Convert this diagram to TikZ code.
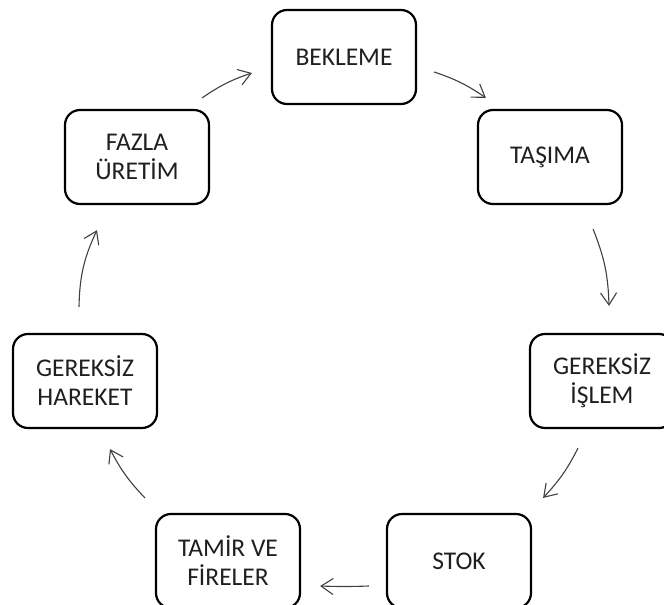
\documentclass[tikz,border=0pt]{standalone}
\usepackage{fontspec}
\setmainfont{Carlito}
\usetikzlibrary{arrows.meta,calc}
\begin{document}
\begin{tikzpicture}[x=1pt,y=-1pt,
  waste/.style={draw=black, line width=2.2pt, rounded corners=15pt,
    minimum width=144pt, minimum height=94pt, inner sep=0pt, align=center,
    font=\fontsize{25.5}{29}\selectfont, text=black!88},
  flow/.style={draw=black!75, line width=1.1pt,
    -{Straight Barb[length=12pt,width=16pt,line width=1.1pt]}}]
\useasboundingbox (0,0) rectangle (664,605);

% the seven wastes, arranged in a ring
\node[waste] (bek)  at (344,57)  {BEKLEME};
\node[waste] (tas)  at (550,157) {TAŞIMA};
\node[waste] (isl)  at (602,381) {GEREKSİZ\\İŞLEM};
\node[waste] (stok) at (459,561) {STOK};
\node[waste] (tam)  at (228,561) {TAMİR VE\\FİRELER};
\node[waste] (har)  at (85,381)  {GEREKSİZ\\HAREKET};
\node[waste] (faz)  at (137,157) {FAZLA\\ÜRETİM};

% clockwise cycle of arrows
\draw[flow] ($(faz.north east)+(-8,-11)$) to[bend left=8]  ($(bek.west)+(-19,16)$);
\draw[flow] ($(bek.east)+(17,15)$)        to[bend left=8]  ($(tas.north west)+(9,-11)$);
\draw[flow] ($(tas.south east)+(-30,24)$) to[bend left=10] ($(isl.north)+(7,-27)$);
\draw[flow] ($(isl.south)+(-24,19)$)      to[bend left=8]  ($(stok.north east)+(11,-15)$);
\draw[flow] ($(stok.west)+(-17,25)$)      to[bend left=2]  ($(tam.east)+(19,25)$);
\draw[flow] ($(tam.north west)+(-10,-15)$) to[bend left=8] ($(har.south)+(25,20)$);
\draw[flow] ($(har.north)+(-6,-26)$)      to[bend left=12] ($(faz.south)+(-40,25)$);
\end{tikzpicture}
\end{document}
